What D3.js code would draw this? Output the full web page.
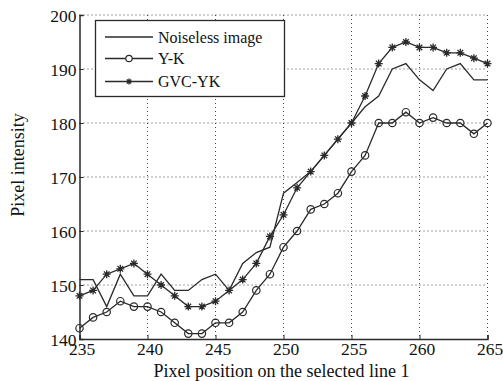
<!DOCTYPE html>
<html><head><meta charset="utf-8">
<script src="https://cdn.jsdelivr.net/npm/d3@7"></script>
<style>body{margin:0;background:#fff}svg{display:block}text{font-family:"Liberation Serif","Times New Roman",serif;fill:#111}</style>
</head><body>
<script>
const positions = d3.range(235, 266);
const noiseless = [151,151,146,152,148,148,152,149,149,151,152,149,154,156,157,167,169,171,174,177,180,183,185,190,191,188,186,190,191,188,188];
const yk        = [142,144,145,147,146,146,145,143,141,141,143,143,145,149,152,157,160,164,165,167,171,174,180,180,182,180,181,180,180,178,180];
const gvcyk     = [148,149,152,153,154,152,150,148,146,146,147,149,151,154,159,163,168,171,174,177,180,185,191,194,195,194,194,193,193,192,191];
const xTicks = [235,240,245,250,255,260,265];
const yTicks = [140,150,160,170,180,190,200];
const seriesNames = ["Noiseless image","Y-K","GVC-YK"];

const W=503,H=381, L=79.5, R=487.5, T=15, B=339;
const svg=d3.select("body").append("svg").attr("width",W).attr("height",H);
const x=d3.scaleLinear().domain([235,265]).range([L,R]);
const y=d3.scaleLinear().domain([140,200]).range([B,T]);
const ink="#2a2a2a";

// grid
const g=svg.append("g");
g.selectAll(".gx").data(xTicks.slice(1)).join("line")
 .attr("x1",d=>x(d)).attr("x2",d=>x(d)).attr("y1",T).attr("y2",B)
 .attr("stroke","#444").attr("stroke-width",1).attr("stroke-dasharray","1,3");
g.selectAll(".gy").data(yTicks.slice(1)).join("line")
 .attr("y1",d=>y(d)).attr("y2",d=>y(d)).attr("x1",L).attr("x2",R)
 .attr("stroke","#444").attr("stroke-width",1).attr("stroke-dasharray","1,3");

// axes
const xa=svg.append("g").attr("transform",`translate(0,${B})`)
 .call(d3.axisBottom(x).tickValues(xTicks).tickSize(-4).tickPadding(4).tickFormat(d3.format("d")));
const ya=svg.append("g").attr("transform",`translate(${L},0)`)
 .call(d3.axisLeft(y).tickValues(yTicks).tickSize(-4).tickPadding(3).tickFormat(d3.format("d")));
[xa,ya].forEach(a=>{a.select(".domain").attr("stroke",ink).attr("stroke-width",1.5);
 a.selectAll(".tick line").attr("stroke",ink);
 a.selectAll("text").attr("font-size",17.5).attr("fill","#111");});
xa.selectAll("text").attr("dx","2");
ya.selectAll("text").attr("dy","0.35em");

// lines
const line=(arr)=>d3.line().x((d,i)=>x(positions[i])).y(d=>y(d))(arr);
[noiseless,yk,gvcyk].forEach(arr=>{
 svg.append("path").attr("d",line(arr)).attr("fill","none").attr("stroke",ink).attr("stroke-width",1.3);
});
// circle markers
svg.selectAll(".ck").data(yk).join("circle")
 .attr("cx",(d,i)=>x(positions[i])).attr("cy",d=>y(d)).attr("r",3.7)
 .attr("fill","none").attr("stroke",ink).attr("stroke-width",1.2);
// star markers
const star=(gg,cx,cy,s)=>{
 const p=`M${cx-s},${cy}L${cx+s},${cy}M${cx},${cy-s}L${cx},${cy+s}M${cx-s*0.7},${cy-s*0.7}L${cx+s*0.7},${cy+s*0.7}M${cx-s*0.7},${cy+s*0.7}L${cx+s*0.7},${cy-s*0.7}`;
 gg.append("path").attr("d",p).attr("stroke",ink).attr("stroke-width",1.3).attr("fill","none");
};
const sg=svg.append("g");
gvcyk.forEach((d,i)=>star(sg,x(positions[i]),y(d),4));

// legend
const lg=svg.append("g");
lg.append("rect").attr("x",95.5).attr("y",20.5).attr("width",189).attr("height",76)
 .attr("fill","#fff").attr("stroke",ink).attr("stroke-width",1.3);
const ly=[37,58.5,81.5];
seriesNames.forEach((n,i)=>{
 lg.append("line").attr("x1",105).attr("x2",153).attr("y1",ly[i]).attr("y2",ly[i]).attr("stroke",ink).attr("stroke-width",1.3);
 lg.append("text").attr("x",158).attr("y",ly[i]).attr("dy","0.35em").attr("font-size",16).text(n);
});
lg.append("circle").attr("cx",129).attr("cy",ly[1]).attr("r",3.2).attr("fill","#fff").attr("stroke",ink).attr("stroke-width",1.2);
star(lg,129,ly[2],3);

// axis titles
svg.append("text").attr("x",281.5).attr("y",377).attr("text-anchor","middle").attr("font-size",18).text("Pixel position on the selected line 1");
svg.append("text").attr("transform",`translate(24,165) rotate(-90)`).attr("text-anchor","middle").attr("font-size",18).text("Pixel intensity");
</script>
</body></html>
